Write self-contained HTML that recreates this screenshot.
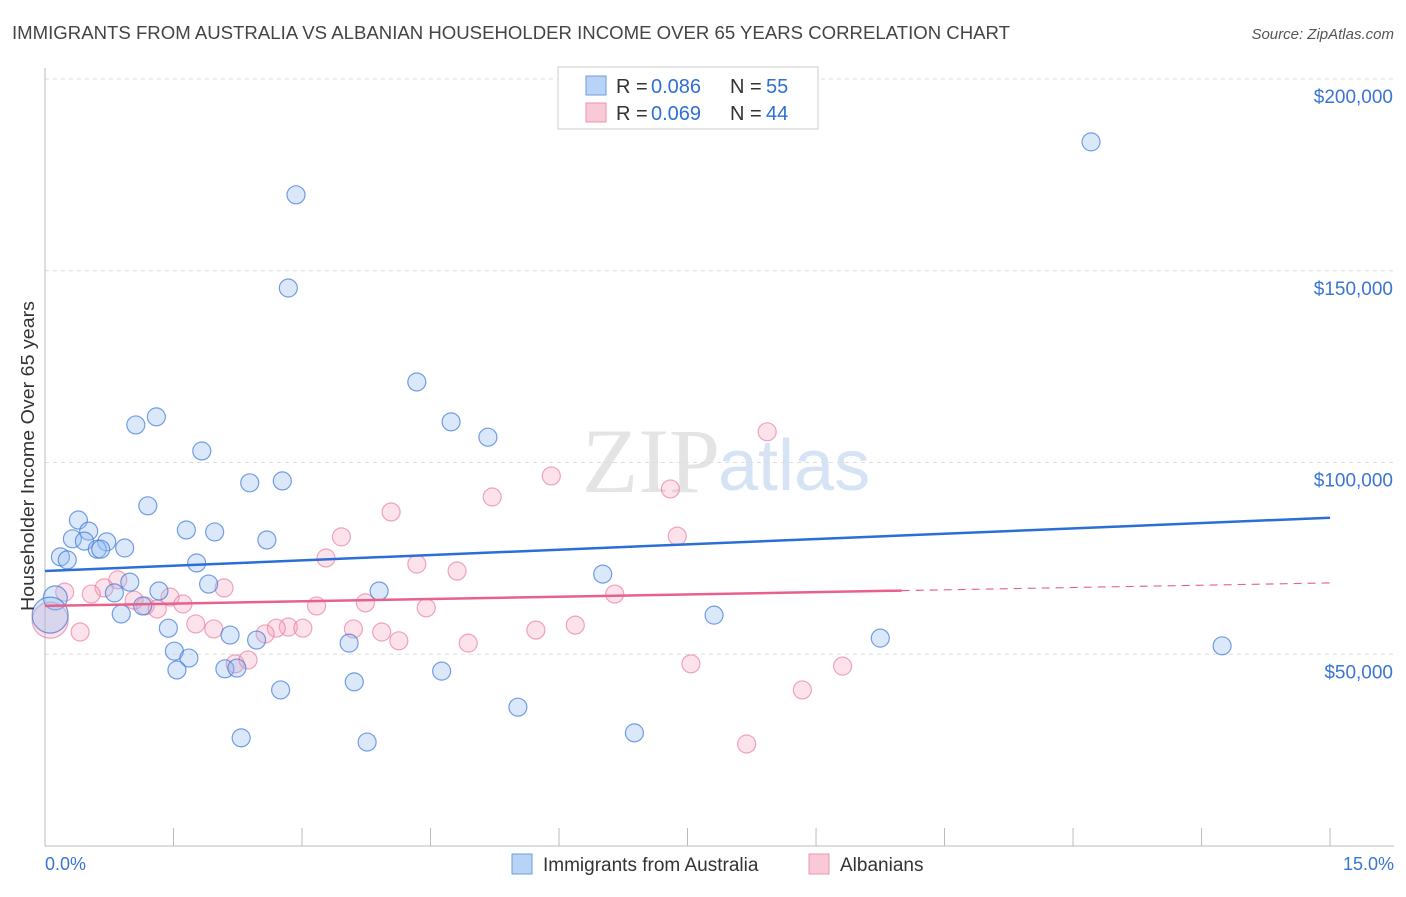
<!DOCTYPE html>
<html><head><meta charset="utf-8"><style>
body{margin:0;background:#fff;font-family:"Liberation Sans",sans-serif}
</style></head><body>
<svg width="1406" height="892" xmlns="http://www.w3.org/2000/svg" font-family="Liberation Sans, sans-serif">
<text x="12" y="39" font-size="18" fill="#444" textLength="998" lengthAdjust="spacingAndGlyphs">IMMIGRANTS FROM AUSTRALIA VS ALBANIAN HOUSEHOLDER INCOME OVER 65 YEARS CORRELATION CHART</text>
<text x="1394" y="39" font-size="15" fill="#555" font-style="italic" text-anchor="end">Source: ZipAtlas.com</text>
<text x="720" y="492" font-size="92" fill="#e4e4e4" text-anchor="end" font-family="Liberation Serif, serif">ZIP</text>
<text x="718" y="490" font-size="72" fill="#d5e3f5">atlas</text>
<g id="grid"></g>
<g id="axes"></g>
<g id="marks"></g>
<text transform="translate(34,456) rotate(-90)" font-size="18.5" fill="#333" text-anchor="middle" textLength="310" lengthAdjust="spacingAndGlyphs">Householder Income Over 65 years</text>
<text x="45" y="870" font-size="18" fill="#3a74d4">0.0%</text>
<text x="1394" y="870" font-size="18" fill="#3a74d4" text-anchor="end">15.0%</text>
<g>
<rect x="558" y="67" width="260" height="62" fill="#fff" stroke="#ccc"/>
<rect x="586" y="76" width="20" height="19" fill="#b8d3f5" stroke="#6d9be0"/>
<rect x="586" y="103" width="20" height="19" fill="#f9c9d7" stroke="#ec95ae"/>
<text x="616" y="93" font-size="20" fill="#333">R =</text>
<text x="651" y="93" font-size="20" fill="#2f6fd6">0.086</text>
<text x="730" y="93" font-size="20" fill="#333">N =</text>
<text x="766" y="93" font-size="20" fill="#2f6fd6">55</text>
<text x="616" y="120" font-size="20" fill="#333">R =</text>
<text x="651" y="120" font-size="20" fill="#2f6fd6">0.069</text>
<text x="730" y="120" font-size="20" fill="#333">N =</text>
<text x="766" y="120" font-size="20" fill="#2f6fd6">44</text>
</g>
<g>
<rect x="512" y="854" width="20" height="20" fill="#b8d3f5" stroke="#6d9be0"/>
<text x="543" y="871" font-size="19" fill="#333">Immigrants from Australia</text>
<rect x="809" y="854" width="20" height="20" fill="#f9c9d7" stroke="#ec95ae"/>
<text x="840" y="871" font-size="19" fill="#333">Albanians</text>
</g>
</svg>
<script>
const yTicks=[50,100,150,200];
const yTickLabels=["$50,000","$100,000","$150,000","$200,000"];
const blueX=[12.21,2.93,2.84,4.34,1.30,1.06,4.74,5.17,1.83,2.39,2.77,1.20,0.39,0.51,1.65,1.98,0.32,0.46,0.72,2.59,0.18,0.61,0.65,0.93,0.26,1.77,6.51,0.99,1.91,0.81,1.33,3.90,1.14,0.89,7.81,0.12,1.44,2.16,2.47,3.55,9.75,13.74,1.51,1.68,1.54,2.10,2.24,4.63,3.61,2.75,5.52,2.29,6.88,3.76,0.06];
const blueY=[183.6,169.8,145.5,121.0,111.9,109.8,110.6,106.6,103.0,94.7,95.2,88.7,85.0,82.1,82.4,81.9,80.1,79.5,79.3,79.8,75.4,77.4,77.4,77.7,74.6,73.8,70.9,68.8,68.3,66.0,66.5,66.5,62.6,60.5,60.2,64.7,56.8,55.0,53.7,52.9,54.2,52.2,50.8,49.0,45.9,46.2,46.4,45.6,42.8,40.7,36.2,28.2,29.5,27.1,60.2];
const blueR=[9,9,9,9,9,9,9,9,9,9,9,9,9,9,9,9,9,9,9,9,9,9,9,9,9,9,9,9,9,9,9,9,9,9,9,12,9,9,9,9,9,9,9,9,9,9,9,9,9,9,9,9,9,9,18];
const pinkX=[8.43,5.91,7.30,5.22,4.04,7.38,3.46,3.28,4.34,4.81,0.85,0.69,2.09,0.54,0.23,1.46,1.04,1.17,1.61,6.65,3.74,3.17,4.45,1.31,1.76,6.19,1.97,2.84,2.70,3.01,3.60,3.93,5.73,0.41,2.57,4.13,4.94,2.22,2.37,7.54,9.31,8.84,8.19,0.06];
const pinkY=[108.0,96.5,93.1,91.0,87.1,80.8,80.6,75.1,73.5,71.7,69.4,67.3,67.3,65.7,66.2,64.9,64.1,62.6,63.1,65.7,63.4,62.6,62.1,61.8,57.9,57.6,56.6,57.1,56.8,56.8,56.6,55.8,56.3,55.8,55.3,53.5,52.9,47.5,48.5,47.5,46.9,40.7,26.6,58.9];
const blueTrend=[71.7,85.6];
const pinkTrend=[62.6,68.6];
const pinkSolidEnd=10;
const NS="http://www.w3.org/2000/svg";
const sx=v=>45+v*85.67, sy=v=>846-v*3.835;
function mk(t,a,p){const e=document.createElementNS(NS,t);for(const k in a)e.setAttribute(k,a[k]);document.getElementById(p).appendChild(e);return e;}
yTicks.forEach((t,i)=>{
 const l=mk('line',{x1:45,x2:1394,y1:sy(t),y2:sy(t),stroke:'#ddd','stroke-dasharray':'4,4'},'grid');
 
 
 const tx=mk('text',{x:1393,y:sy(t)+24,'font-size':19,fill:'#3a74d4','text-anchor':'end'},'axes');
 tx.textContent=yTickLabels[i];
 
 
});
mk('line',{x1:45,x2:45,y1:68,y2:846,stroke:'#bbb'},'axes');
mk('line',{x1:45,x2:1394,y1:846,y2:846,stroke:'#bbb'},'axes');
for(let i=1;i<=10;i++){const x=sx(i*1.5);const t=mk('line',{x1:x,x2:x,y1:828,y2:846,stroke:'#bbb'},'axes');
 
 }
pinkX.forEach((x,i)=>{const c=mk('circle',{cx:sx(x),cy:sy(pinkY[i]),r:i==pinkX.length-1?18:9,fill:'rgba(244,160,185,0.3)',stroke:'rgba(232,120,155,0.65)','stroke-width':1.2},'marks');
 
 });
blueX.forEach((x,i)=>{const c=mk('circle',{cx:sx(x),cy:sy(blueY[i]),r:blueR[i],fill:'rgba(150,190,240,0.35)',stroke:'rgba(60,120,215,0.7)','stroke-width':1.2},'marks');
 
 });
const bl=mk('line',{x1:sx(0),y1:sy(blueTrend[0]),x2:sx(15),y2:sy(blueTrend[1]),stroke:'#2b6fd6','stroke-width':2.5},'marks');


const pm=pinkTrend[0]+(pinkTrend[1]-pinkTrend[0])*pinkSolidEnd/15;
const pl=mk('line',{x1:sx(0),y1:sy(pinkTrend[0]),x2:sx(pinkSolidEnd),y2:sy(pm),stroke:'#e8608c','stroke-width':2.5},'marks');


const pd=mk('line',{x1:sx(pinkSolidEnd),y1:sy(pm),x2:sx(15),y2:sy(pinkTrend[1]),stroke:'#e8608c','stroke-width':1.2,'stroke-dasharray':'8,6'},'marks');


</script>
</body></html>
